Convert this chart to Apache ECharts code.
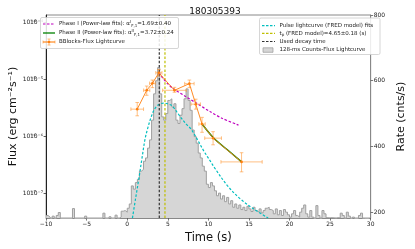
<!DOCTYPE html>
<html><head><meta charset="utf-8">
<script src="https://cdn.jsdelivr.net/npm/echarts@6/dist/echarts.min.js"></script>
<style>html,body{margin:0;padding:0;background:#fff}#c{width:415px;height:249px}</style>
</head><body><div id="c"></div>
<script>
const title = '180305393';
// 128-ms-like counts histogram (bin left edges from binStart, width binWidth)
const binStart = -10, binWidth = 0.25;
const rates = [
190,185,175,188,178,190,199,178,175,172,176,174,178,211,172,175,173,177,178,188,
176,172,175,178,170,174,177,175,197,176,178,186,176,178,191,180,185,203,
205,200,212,225,280,270,290,300,325,330,355,365,395,420,480,560,600,640,560,490,
480,500,540,545,520,530,480,470,495,515,545,575,540,510,450,430,410,380,365,340,
325,285,275,290,280,265,250,258,240,250,232,245,225,235,215,225,212,222,208,215,
205,218,210,202,215,205,200,210,198,205,
212,215,208,205,195,210,192,205,190,208,200,192,185,195,205,190,185,200,212,222,
195,185,205,185,178,220,190,180,205,195,183,182,183,182,181,183,182,197,190,180,
200,188,178,185,175,180,190,197,180,178,175,178
];
// Bayesian-blocks flux lightcurve
const bbT     = [1.23, 2.40, 3.10, 3.90, 5.82, 7.66, 8.44, 9.22, 10.58, 14.09];
const bbTErr  = [0.78, 0.38, 0.35, 0.38, 1.46, 0.58, 0.58, 0.39, 1.03, 2.54];
const bbFlux  = [3.01e-6, 6.46e-6, 8.55e-6, 1.31e-5, 6.46e-6, 8.45e-6, 3.68e-6, 1.65e-6, 9.31e-7, 3.56e-7];
const bbFluxLo= [2.30e-6, 5.28e-6, 7.19e-6, 1.15e-5, 5.96e-6, 7.19e-6, 3.01e-6, 1.18e-6, 7.11e-7, 2.38e-7];
const bbFluxHi= [3.94e-6, 7.67e-6, 9.77e-6, 1.50e-5, 7.28e-6, 9.77e-6, 4.50e-6, 2.16e-6, 1.21e-6, 5.16e-7];
// Phase I power-law fit
const pl1T = [3.92, 4.35, 5.0, 5.71, 7.08, 8.63, 10.20, 11.75, 13.71];
const pl1F = [1.33e-5, 1.07e-5, 8.37e-6, 6.85e-6, 5.14e-6, 3.76e-6, 2.73e-6, 2.06e-6, 1.58e-6];
// Phase II power-law fit
const pl2T = [9.22, 10.58, 12.34, 14.09];
const pl2F = [1.65e-6, 9.6e-7, 5.8e-7, 3.56e-7];
// FRED pulse fit (counts rate)
const fredT = [0.64,1.03,1.43,1.81,2.20,2.60,2.98,3.37,3.80,4.50,5.09,5.56,6.49,7.27,7.86,8.60,9.42,10.20,10.82,12.34,13.86,15.46,17.37];
const fredR = [182,242,302,363,423,462,492,514,526,532,529,523,492,468,453,423,387,357,333,281,242,212,182];
const decayT = 3.95, tPeak = 4.65;
const xMin = -10, xMax = 30, xStep = 5;
const fluxMin = 3.66e-8, fluxMax = 1.36e-4;
const fluxTicks = [1e-7, 1e-6, 1e-5, 1e-4];
const rateMin = 182, rateMax = 800;
const rateTicks = [200, 400, 600, 800];

const FONT = 'DejaVu Sans';
const L = Math.log10;
const histData = rates.map((r, i) => [binStart + i * binWidth, r]);
histData.push([binStart + rates.length * binWidth, rates[rates.length - 1]]);
const sup = {'-':'⁻','0':'⁰','1':'¹','2':'²','3':'³','4':'⁴','5':'⁵','6':'⁶','7':'⁷','8':'⁸','9':'⁹'};
const toSup = s => String(s).split('').map(c => sup[c] || c).join('');
const fluxLabel = v => '10' + toSup(Math.round(v));

const ORANGE = '#ff7f0e', EBAR = 'rgba(255,150,50,0.6)';
const lgFont = 5.5;
const rich = {
  sub: {fontSize: 4, fontFamily: FONT, verticalAlign: 'bottom', lineHeight: 8, fill: '#222'},
  sp: {fontSize: 4, fontFamily: FONT, verticalAlign: 'top', lineHeight: 8, fill: '#222'}
};
function txt(x, y, t) {
  return {type: 'text', x: x, y: y, z: 100, style: {text: t, fontSize: lgFont, fontFamily: FONT, fill: '#222', verticalAlign: 'middle', rich: rich}};
}
function seg(x1, y1, x2, y2, color, w, dash) {
  return {type: 'line', z: 100, shape: {x1, y1, x2, y2}, style: {stroke: color, lineWidth: w, lineDash: dash || null}};
}
const graphic = [
  {type: 'rect', z: 99, shape: {x: 40.5, y: 17.5, width: 138, height: 31, r: 1.5}, style: {fill: 'rgba(255,255,255,0.85)', stroke: '#ccc', lineWidth: 0.8}},
  seg(43, 24, 55, 24, '#bf00bf', 1.2, [2.5, 1.5]),
  txt(59, 24, 'Phase I (Power-law fits): α{sp|I}{sub|F,1}=1.69±0.40'),
  seg(43, 33, 55, 33, '#008000', 1.3),
  txt(59, 33, 'Phase II (Power-law fits): α{sp|II}{sub|F,1}=3.72±0.24'),
  seg(43, 42, 55, 42, EBAR, 1),
  seg(49, 39, 49, 45, EBAR, 1),
  seg(43, 40.5, 43, 43.5, EBAR, 1), seg(55, 40.5, 55, 43.5, EBAR, 1),
  seg(47.5, 39, 50.5, 39, EBAR, 1), seg(47.5, 45, 50.5, 45, EBAR, 1),
  seg(43, 42, 55, 42, ORANGE, 0.8),
  {type: 'circle', z: 101, shape: {cx: 49, cy: 42, r: 1.3}, style: {fill: ORANGE}},
  txt(59, 42, 'BBlocks-Flux Lightcurve'),

  {type: 'rect', z: 99, shape: {x: 259.5, y: 18, width: 120.5, height: 36.5, r: 1.5}, style: {fill: 'rgba(255,255,255,0.85)', stroke: '#ccc', lineWidth: 0.8}},
  seg(262, 25.7, 275, 25.7, '#00bfbf', 1.2, [2.5, 1.5]),
  txt(279.5, 25.7, 'Pulse lightcurve (FRED model) fits'),
  seg(262, 33.3, 275, 33.3, '#bfbf00', 1.2, [2.5, 1.5]),
  txt(279.5, 33.3, 't{sub|p} (FRED model)=4.65±0.18 (s)'),
  seg(262, 41.5, 275, 41.5, '#333', 1.2, [2.5, 1.5]),
  txt(279.5, 41.5, 'Used decay time'),
  {type: 'rect', z: 100, shape: {x: 263, y: 47.8, width: 10, height: 4.5}, style: {fill: '#d6d6d6', stroke: '#999', lineWidth: 0.7}},
  txt(279.5, 50, '128-ms Counts-Flux Lightcurve')
];

const axisLbl = {fontSize: 6, fontFamily: FONT, color: '#222', margin: 3};
const option = {
  animation: false,
  backgroundColor: '#fff',
  title: {text: title, left: 210, top: 2, textAlign: 'center', textStyle: {fontSize: 9, fontWeight: 'normal', fontFamily: FONT, color: '#111'}},
  grid: {left: 39, right: 34, top: 15, bottom: 29, show: true, borderColor: '#888', borderWidth: 1, backgroundColor: 'transparent'},
  graphic: graphic,
  xAxis: {
    type: 'value', min: xMin, max: xMax, interval: xStep,
    name: 'Time (s)', nameLocation: 'middle', nameGap: 12,
    nameTextStyle: {fontSize: 11.5, fontFamily: FONT, color: '#111'},
    axisLine: {onZero: false, lineStyle: {color: '#888', width: 1}},
    axisTick: {length: 2.5, lineStyle: {color: '#555', width: 0.8}},
    axisLabel: Object.assign({}, axisLbl, {formatter: v => String(v).replace('-', '−')}),
    splitLine: {show: false}
  },
  yAxis: [{
    // log10 flux scale
    type: 'value', min: L(fluxMin), max: L(fluxMax), position: 'left',
    name: 'Flux (erg cm⁻²s⁻¹)', nameLocation: 'middle', nameGap: 20,
    nameTextStyle: {fontSize: 11, fontFamily: FONT, color: '#111'},
    axisLine: {show: true, onZero: false, lineStyle: {color: '#222', width: 1}},
    axisTick: {length: 2.5, lineStyle: {color: '#333', width: 0.8}, customValues: fluxTicks.map(L)},
    axisLabel: Object.assign({}, axisLbl, {customValues: fluxTicks.map(L), showMaxLabel: true, showMinLabel: true,
      formatter: fluxLabel}),
    splitLine: {show: false}
  }, {
    type: 'value', min: rateMin, max: rateMax, position: 'right',
    name: 'Rate (cnts/s)', nameLocation: 'middle', nameGap: 17, nameRotate: 90,
    nameTextStyle: {fontSize: 11, fontFamily: FONT, color: '#111'},
    axisLine: {show: true, onZero: false, lineStyle: {color: '#888', width: 1}},
    axisTick: {length: 2.5, lineStyle: {color: '#555', width: 0.8}, customValues: rateTicks},
    axisLabel: Object.assign({}, axisLbl, {customValues: rateTicks, showMaxLabel: true}),
    splitLine: {show: false}
  }],
  series: [
    {type: 'line', name: 'hist', yAxisIndex: 1, step: 'end', data: histData, symbol: 'none', z: 1,
     lineStyle: {color: '#9f9f9f', width: 1}, areaStyle: {color: '#d6d6d6', opacity: 1, origin: 'start'}},
    {type: 'line', name: 'fred', yAxisIndex: 1, smooth: 0.35, data: fredT.map((t, i) => [t, fredR[i]]), symbol: 'none', z: 2,
     lineStyle: {color: '#00bfbf', width: 1.2, type: [2.5, 1.8]}},
    {type: 'line', name: 'decay', yAxisIndex: 0, data: [[decayT, L(fluxMin)], [decayT, L(fluxMax)]], symbol: 'none', z: 3,
     lineStyle: {color: '#333', width: 1.2, type: [2.5, 1.8]}},
    {type: 'line', name: 'tp', yAxisIndex: 0, data: [[tPeak, L(fluxMin)], [tPeak, L(fluxMax)]], symbol: 'none', z: 3,
     lineStyle: {color: '#bfbf00', width: 1.2, type: [2.5, 1.8]}},
    {type: 'line', name: 'pl1', yAxisIndex: 0, smooth: 0.3, data: pl1T.map((t, i) => [t, L(pl1F[i])]), symbol: 'none', z: 4,
     lineStyle: {color: '#bf00bf', width: 1.2, type: [2.5, 1.8]}},
    {type: 'custom', name: 'ebar', yAxisIndex: 0, z: 5,
     data: bbT.map((t, i) => [t, L(bbFlux[i]), t - bbTErr[i], t + bbTErr[i], L(bbFluxLo[i]), L(bbFluxHi[i])]),
     encode: {x: 0, y: 1},
     renderItem: function (params, api) {
       const y = api.value(1);
       const c = api.coord([api.value(0), y]);
       const l = api.coord([api.value(2), y]);
       const r = api.coord([api.value(3), y]);
       const lo = api.coord([api.value(0), api.value(4)]);
       const hi = api.coord([api.value(0), api.value(5)]);
       const cap = 1.8;
       const st = {stroke: EBAR, lineWidth: 1};
       const lines = [
         [l[0], c[1], r[0], c[1]], [c[0], lo[1], c[0], hi[1]],
         [l[0], c[1] - cap, l[0], c[1] + cap], [r[0], c[1] - cap, r[0], c[1] + cap],
         [c[0] - cap, lo[1], c[0] + cap, lo[1]], [c[0] - cap, hi[1], c[0] + cap, hi[1]]
       ];
       return {type: 'group', children: lines.map(p => ({type: 'line', shape: {x1: p[0], y1: p[1], x2: p[2], y2: p[3]}, style: st}))};
     }},
    {type: 'line', name: 'pl2', yAxisIndex: 0, smooth: 0.3, data: pl2T.map((t, i) => [t, L(pl2F[i])]), symbol: 'none', z: 6,
     lineStyle: {color: '#008000', width: 1.4}},
    {type: 'line', name: 'bb', yAxisIndex: 0, data: bbT.map((t, i) => [t, L(bbFlux[i])]), symbol: 'circle', symbolSize: 2.6, z: 7,
     itemStyle: {color: ORANGE}, lineStyle: {color: ORANGE, width: 0.9}}
  ]
};
const chart = echarts.init(document.getElementById('c'), null, {renderer: 'canvas'});
chart.setOption(option);

// Make sure every flux tick label is shown: if the axis dropped one, add it at the
// position the axis itself gives for that tick value, aligned with its neighbours.
(function ensureFluxLabels() {
  const zr = chart.getZr();
  const found = {};
  zr.storage.traverse(e => {
    if (e.style && typeof e.style.text === 'string') found[e.style.text] = e;
  });
  const globalRect = e => { const r = e.getBoundingRect().clone(); if (e.transform) r.applyTransform(e.transform); return r; };
  let rightEdge = 36;
  const ref = found[fluxLabel(L(1e-5))] || found[fluxLabel(L(1e-6))];
  if (ref) { const r = globalRect(ref); if (r.width > 0 && r.x + r.width < 40) rightEdge = r.x + r.width; }
  fluxTicks.forEach(v => {
    const text = fluxLabel(L(v));
    const yPix = chart.convertToPixel({yAxisIndex: 0}, L(v));
    const e = found[text];
    let ok = false;
    if (e && !e.ignore && !e.invisible) {
      const r = globalRect(e);
      ok = r.x > 2 && r.x + r.width < 40 && Math.abs(r.y + r.height / 2 - yPix) < 5;
    }
    if (!ok) {
      zr.add(new echarts.graphic.Text({
        z: 1000, x: rightEdge, y: yPix,
        style: {text: text, fontSize: 6, fontFamily: FONT, fill: '#222', align: 'right', verticalAlign: 'middle'}
      }));
    }
  });
})();
</script></body></html>
